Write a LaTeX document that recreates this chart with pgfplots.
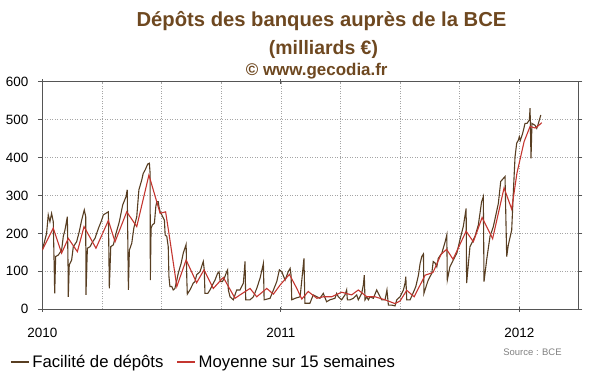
\documentclass[border=0pt]{standalone}
\usepackage{pgfplots}
\pgfplotsset{compat=1.18}
\usepackage{fontspec}
\setmainfont{Liberation Sans}
\definecolor{brun}{RGB}{88,62,34}
\definecolor{rouge}{RGB}{196,54,48}
\definecolor{titre}{RGB}{110,72,32}
\definecolor{cadre}{RGB}{85,85,85}
\definecolor{grille}{RGB}{165,165,165}
\begin{document}
\begin{tikzpicture}
\path[use as bounding box] (0bp,0bp) rectangle (600bp,372bp);
\begin{axis}[
  at={(42.3bp,62.7bp)}, anchor=south west,
  scale only axis, width=535.7bp, height=227.6bp,
  xmin=2010, xmax=2012.246, ymin=0, ymax=600,
  axis line style={cadre, line width=0.9bp},
  xtick={2010,2011,2012}, xticklabels={2010,2011,2012},
  minor xtick={2010.25,2010.5,2010.75,2011.25,2011.5,2011.75},
  ytick={0,100,200,300,400,500,600},
  grid=both,
  major grid style={grille, dash pattern=on 1bp off 1.5bp, line width=0.6bp},
  minor grid style={grille, dash pattern=on 1bp off 1.5bp, line width=0.6bp},
  major tick length=4.5bp, minor tick length=0pt,
  xtick align=center, ytick align=outside,
  tick style={cadre, line width=0.9bp},
  /pgf/number format/assume math mode=true,
  ticklabel style={font=\fontsize{13.5}{15}\selectfont},
  yticklabel style={xshift=-6bp},
  xticklabel style={yshift=-13bp},
  legend columns=2,
  legend cell align=left,
  legend style={at={(-0.0603,-0.2315)}, anchor=west, draw=none, fill=none,
    inner sep=0pt, nodes={inner sep=0pt}, font=\fontsize{16.8}{19}\selectfont,
    /tikz/every even column/.append style={column sep=13bp}},
  legend image code/.code={\draw[#1, line width=1.2bp] (0bp,0bp) -- (18bp,0bp); \path (21bp,0bp);},
]
\addplot[brun, line width=1.1bp] table {
2010.000 156
2010.018 200
2010.025 249
2010.032 231
2010.039 253
2010.046 231
2010.049 139
2010.052 42
2010.056 139
2010.067 143
2010.081 156
2010.088 192
2010.095 209
2010.105 244
2010.108 112
2010.109 33
2010.113 117
2010.123 130
2010.130 165
2010.144 178
2010.155 205
2010.165 235
2010.176 262
2010.182 244
2010.183 38
2010.189 161
2010.200 165
2010.211 178
2010.221 187
2010.235 213
2010.249 235
2010.256 249
2010.277 257
2010.281 55
2010.287 165
2010.298 170
2010.309 200
2010.323 231
2010.337 275
2010.351 297
2010.356 315
2010.361 51
2010.365 156
2010.375 174
2010.384 215
2010.396 244
2010.405 315
2010.417 341
2010.423 358
2010.431 367
2010.442 383
2010.449 385
2010.452 358
2010.453 77
2010.456 213
2010.461 222
2010.470 227
2010.476 271
2010.480 284
2010.486 284
2010.489 271
2010.494 257
2010.501 249
2010.512 235
2010.515 196
2010.522 192
2010.528 165
2010.531 86
2010.535 60
2010.543 60
2010.549 51
2010.556 55
2010.564 77
2010.570 95
2010.582 121
2010.591 148
2010.603 171
2010.606 77
2010.608 40
2010.619 51
2010.633 69
2010.640 73
2010.647 91
2010.661 99
2010.675 126
2010.679 104
2010.682 42
2010.694 42
2010.703 51
2010.713 64
2010.724 77
2010.735 95
2010.741 99
2010.746 73
2010.755 73
2010.763 82
2010.773 99
2010.777 104
2010.780 51
2010.787 33
2010.801 25
2010.815 51
2010.829 51
2010.843 69
2010.850 126
2010.853 25
2010.871 25
2010.885 33
2010.899 55
2010.913 82
2010.927 121
2010.930 25
2010.955 29
2010.969 51
2010.983 73
2010.994 104
2011.004 99
2011.018 77
2011.031 99
2011.039 108
2011.043 90
2011.046 25
2011.060 29
2011.081 33
2011.097 134
2011.101 16
2011.122 16
2011.136 38
2011.151 33
2011.164 29
2011.178 42
2011.192 20
2011.206 25
2011.227 29
2011.234 42
2011.241 33
2011.255 25
2011.269 38
2011.276 51
2011.279 25
2011.290 25
2011.304 29
2011.318 38
2011.325 25
2011.339 42
2011.346 64
2011.350 90
2011.353 25
2011.360 33
2011.367 25
2011.374 33
2011.388 29
2011.402 51
2011.409 42
2011.423 25
2011.437 25
2011.445 51
2011.451 11
2011.465 11
2011.479 9
2011.486 25
2011.500 33
2011.514 51
2011.521 69
2011.524 86
2011.528 25
2011.542 25
2011.556 45
2011.566 60
2011.577 90
2011.584 121
2011.591 139
2011.598 146
2011.600 42
2011.609 60
2011.618 77
2011.633 95
2011.639 126
2011.647 122
2011.654 112
2011.660 134
2011.675 148
2011.689 178
2011.696 196
2011.698 77
2011.709 112
2011.723 130
2011.738 148
2011.751 183
2011.765 218
2011.777 266
2011.779 69
2011.793 165
2011.814 192
2011.828 222
2011.842 284
2011.849 297
2011.852 73
2011.863 130
2011.877 192
2011.891 218
2011.912 279
2011.922 337
2011.940 350
2011.947 139
2011.954 170
2011.968 209
2011.975 310
2011.982 402
2011.989 438
2011.996 446
2012.000 455
2012.004 445
2012.014 464
2012.024 490
2012.032 490
2012.042 499
2012.045 530
2012.049 398
2012.053 490
2012.066 485
2012.073 477
2012.080 490
2012.090 512
};
\addlegendentry{Facilité de dépôts}
\addplot[rouge, line width=1.1bp] table {
2010.000 156
2010.046 214
2010.081 148
2010.109 187
2010.147 152
2010.175 218
2010.225 161
2010.277 234
2010.305 178
2010.354 257
2010.396 218
2010.447 354
2010.494 253
2010.517 257
2010.531 200
2010.564 60
2010.603 130
2010.647 70
2010.678 104
2010.717 55
2010.759 84
2010.808 29
2010.829 38
2010.871 55
2010.899 33
2010.941 55
2010.969 40
2010.997 64
2011.036 92
2011.067 55
2011.088 27
2011.115 47
2011.151 29
2011.178 33
2011.213 33
2011.255 45
2011.297 38
2011.325 51
2011.360 33
2011.395 33
2011.437 25
2011.479 15
2011.500 22
2011.528 50
2011.559 33
2011.605 90
2011.638 97
2011.672 145
2011.695 158
2011.722 132
2011.777 206
2011.807 178
2011.844 242
2011.888 186
2011.936 320
2011.968 264
2011.990 359
2012.020 442
2012.045 482
2012.066 478
2012.080 484
2012.094 492
};
\addlegendentry{Moyenne sur 15 semaines}
\end{axis}
\node[anchor=base, font=\bfseries\fontsize{20.3}{22}\selectfont, text=titre] at (321.5bp,345bp) {Dépôts des banques auprès de la BCE};
\node[anchor=base, font=\bfseries\fontsize{19.5}{22}\selectfont, text=titre] at (323.5bp,317bp) {(milliards €)};
\node[anchor=base, font=\bfseries\fontsize{17}{19}\selectfont, text=titre] at (316.7bp,296bp) {© www.gecodia.fr};
\node[font=\fontsize{9.5}{11}\selectfont, text=gray, inner sep=0pt] at (532.5bp,19.5bp) {Source : BCE};
\end{tikzpicture}
\end{document}
